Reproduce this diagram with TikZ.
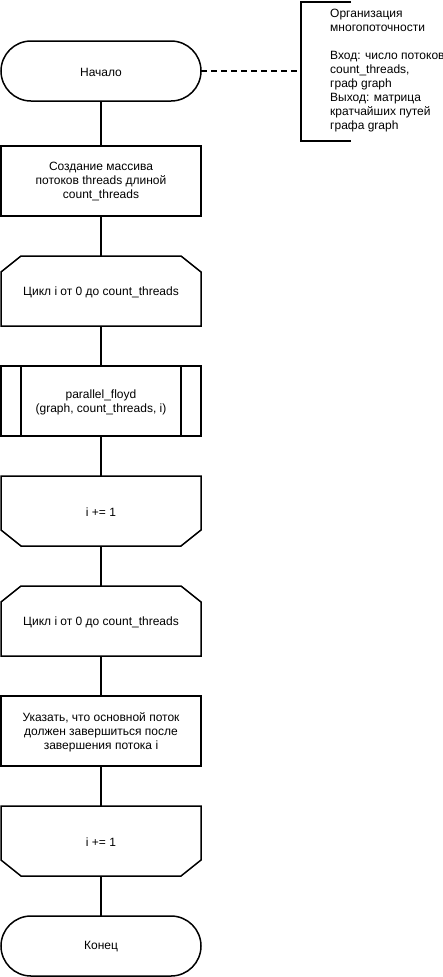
\documentclass[tikz,border=0pt]{standalone}
\usepackage{fontspec}
\setmainfont{Liberation Sans}
\begin{document}
\begin{tikzpicture}[x=1pt,y=-1pt,
  line/.style={line width=1.5pt,black},
  lbl/.style={font=\fontsize{12}{14}\selectfont,align=center,inner sep=0pt},
  every node/.style={inner sep=0pt}]
\useasboundingbox (0,0) rectangle (443,977);
% Start terminal
\draw[line] (31,41) -- (171,41) arc[start angle=90,end angle=-90,radius=30pt] -- (31,101) arc[start angle=270,end angle=90,radius=30pt] -- cycle;
\node[lbl] (start) at (101,72) {Начало};
\coordinate (startR) at (201,71);
\coordinate (startB) at (101,101);
% Process 1
\draw[line] (1,146) rectangle (201,216);
\node[lbl] (p1) at (101,182) {Создание массива\\потоков threads длиной\\count\_threads};
\coordinate (p1T) at (101,146);
\coordinate (p1B) at (101,216);
% Loop start 1
\draw[line] (21,256) -- (181,256) -- (201,272) -- (201,326) -- (1,326) -- (1,272) -- cycle;
\node[lbl] (l1) at (101,292) {Цикл i от 0 до count\_threads};
\coordinate (l1T) at (101,256);
\coordinate (l1B) at (101,326);
% Subprocess
\draw[line] (1,366) rectangle (201,436);
\draw[line] (21,366) -- (21,436);
\draw[line] (181,366) -- (181,436);
\node[lbl] (sp) at (101,402) {parallel\_floyd\\(graph, count\_threads, i)};
\coordinate (spT) at (101,366);
\coordinate (spB) at (101,436);
% Loop end 1
\draw[line] (1,476) -- (201,476) -- (201,530) -- (181,546) -- (21,546) -- (1,530) -- cycle;
\node[lbl] (e1) at (101,512) {i += 1};
\coordinate (e1T) at (101,476);
\coordinate (e1B) at (101,546);
% Loop start 2
\draw[line] (21,586) -- (181,586) -- (201,602) -- (201,656) -- (1,656) -- (1,602) -- cycle;
\node[lbl] (l2) at (101,622) {Цикл i от 0 до count\_threads};
\coordinate (l2T) at (101,586);
\coordinate (l2B) at (101,656);
% Process 2
\draw[line] (1,696) rectangle (201,766);
\node[lbl] (p2) at (101,732) {Указать, что основной поток\\должен завершиться после\\завершения потока i};
\coordinate (p2T) at (101,696);
\coordinate (p2B) at (101,766);
% Loop end 2
\draw[line] (1,806) -- (201,806) -- (201,860) -- (181,876) -- (21,876) -- (1,860) -- cycle;
\node[lbl] (e2) at (101,842) {i += 1};
\coordinate (e2T) at (101,806);
\coordinate (e2B) at (101,876);
% End terminal
\draw[line] (31,916) -- (171,916) arc[start angle=90,end angle=-90,radius=30pt] -- (31,976) arc[start angle=270,end angle=90,radius=30pt] -- cycle;
\node[lbl] (end) at (101,947) {Конец};
\coordinate (endT) at (101,916);
% Connectors
\draw[line] (startB) -- (p1T);
\draw[line] (p1B) -- (l1T);
\draw[line] (l1B) -- (spT);
\draw[line] (spB) -- (e1T);
\draw[line] (e1B) -- (l2T);
\draw[line] (l2B) -- (p2T);
\draw[line] (p2B) -- (e2T);
\draw[line] (e2B) -- (endT);
% Annotation
\draw[line] (351,2) -- (301,2) -- (301,141) -- (351,141);
\coordinate (annL) at (301,71);
\draw[line,dash pattern=on 6pt off 4pt] (startR) -- (annL);
\node[font=\fontsize{12}{14}\selectfont,align=left,anchor=north west] (ann) at (330,9) {Организация\\многопоточности\\[14pt]Вход: число потоков\\count\_threads,\\граф graph\\Выход: матрица\\кратчайших путей\\графа graph};
\end{tikzpicture}
\end{document}
